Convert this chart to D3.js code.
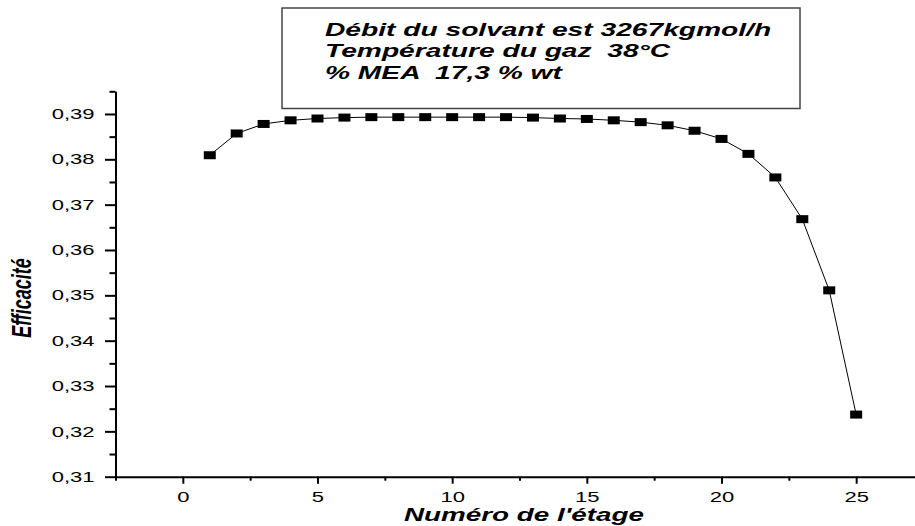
<!DOCTYPE html>
<html>
<head>
<meta charset="utf-8">
<script src="https://cdn.jsdelivr.net/npm/d3@7"></script>
<style>
  body { margin: 0; background: #fff; }
  svg { font-family: Arial, "Liberation Sans", sans-serif; }
  text { white-space: pre; }
</style>
</head>
<body>
<div class="chart"></div>
<script>
// stage number and efficiency
const etages = [1,2,3,4,5,6,7,8,9,10,11,12,13,14,15,16,17,18,19,20,21,22,23,24,25]
const efficacite = [0.3809,0.3857,0.3878,0.3886,0.3890,0.3892,0.3893,0.3893,0.3893,0.3893,
                    0.3893,0.3893,0.3892,0.3890,0.3889,0.3886,0.3882,0.3875,0.3863,0.3845,
                    0.3812,0.3760,0.3668,0.3511,0.3237]

const xMajor = [0,5,10,15,20,25]
const xMinor = [-2.5,2.5,7.5,12.5,17.5,22.5,27.5]
const yMajor = [0.31,0.32,0.33,0.34,0.35,0.36,0.37,0.38,0.39]
const yMinor = [0.315,0.325,0.335,0.345,0.355,0.365,0.375,0.385,0.395]

const infoLines = ["Débit du solvant est 3267kgmol/h", "Température du gaz  38°C", "% MEA  17,3 % wt"]
const xTitle = "Numéro de l'étage"
const yTitle = "Efficacité"

const W = 915, H = 526
// origin export is stretched horizontally
const SX = 1.52

const svg = d3.select(".chart")
  .append("svg")
    .attr("width", W)
    .attr("height", H)

const x = d3.scaleLinear().domain([-2.5, 27.5]).range([115.5, 923.5])
const y = d3.scaleLinear().domain([0.31, 0.395]).range([476.7, 91.3])

const fr = d3.formatLocale({decimal: ",", thousands: " ", grouping: [3], currency: ["", ""]})
const fmt = fr.format(".2f")

// minor ticks first
svg.append("g")
  .attr("transform", `translate(0,${y(0.31)})`)
  .call(d3.axisBottom(x).tickValues(xMinor).tickSize(4).tickFormat("").tickSizeOuter(0))
  .call(g => g.select(".domain").remove())
  .call(g => g.selectAll("line").attr("stroke-width", 2))

svg.append("g")
  .attr("transform", `translate(${x(-2.5)},0)`)
  .call(d3.axisLeft(y).tickValues(yMinor).tickSize(6).tickFormat("").tickSizeOuter(0))
  .call(g => g.select(".domain").remove())
  .call(g => g.selectAll("line").attr("stroke-width", 2))

// x axis
svg.append("g")
  .attr("transform", `translate(0,${y(0.31)})`)
  .call(d3.axisBottom(x).tickValues(xMajor).tickSize(7).tickSizeOuter(0))
  .call(g => g.select(".domain").attr("stroke-width", 2))
  .call(g => g.selectAll("line").attr("stroke-width", 2))
  .call(g => g.selectAll("text")
      .attr("y", 0).attr("dy", null)
      .attr("font-size", 14.5)
      .attr("fill", "#000")
      .attr("transform", `translate(0,25) scale(${SX},1)`))

// y axis
svg.append("g")
  .attr("transform", `translate(${x(-2.5)},0)`)
  .call(d3.axisLeft(y).tickValues(yMajor).tickFormat(fmt).tickSize(10.5).tickSizeOuter(0))
  .call(g => g.select(".domain").attr("stroke-width", 2))
  .call(g => g.selectAll("line").attr("stroke-width", 2))
  .call(g => g.selectAll("text")
      .attr("x", 0)
      .attr("font-size", 14.5)
      .attr("fill", "#000")
      .attr("transform", `translate(-21,0) scale(${SX},1)`))

// line + square markers
const pts = etages.map((e, i) => [e, efficacite[i]])

svg.append("path")
  .datum(pts)
  .attr("fill", "none")
  .attr("stroke", "#000")
  .attr("stroke-width", 1)
  .attr("d", d3.line().x(d => x(d[0])).y(d => y(d[1])))

svg.selectAll("rect.pt")
  .data(pts)
  .join("rect")
    .attr("class", "pt")
    .attr("x", d => x(d[0]) - 6)
    .attr("y", d => y(d[1]) - 4)
    .attr("width", 12)
    .attr("height", 8)
    .attr("fill", "#000")

// info box
svg.append("rect")
  .attr("x", 282)
  .attr("y", 8)
  .attr("width", 518)
  .attr("height", 100.5)
  .attr("fill", "#fff")
  .attr("stroke", "#444")
  .attr("stroke-width", 1.5)

svg.selectAll("text.info")
  .data(infoLines)
  .join("text")
    .attr("class", "info")
    .attr("transform", (d, i) => `translate(325,${35.5 + i * 21.5}) scale(1.54,1)`)
    .attr("font-size", 18.3)
    .attr("font-weight", "bold")
    .attr("font-style", "italic")
    .text(d => d)

// axis titles
svg.append("text")
  .attr("transform", `translate(524,521) scale(${SX},1)`)
  .attr("text-anchor", "middle")
  .attr("font-size", 18.3)
  .attr("font-weight", "bold")
  .attr("font-style", "italic")
  .text(xTitle)

svg.append("text")
  .attr("transform", `translate(31,298) scale(${SX},1) rotate(-90)`)
  .attr("text-anchor", "middle")
  .attr("font-size", 18)
  .attr("font-weight", "bold")
  .attr("font-style", "italic")
  .text(yTitle)
</script>
</body>
</html>
